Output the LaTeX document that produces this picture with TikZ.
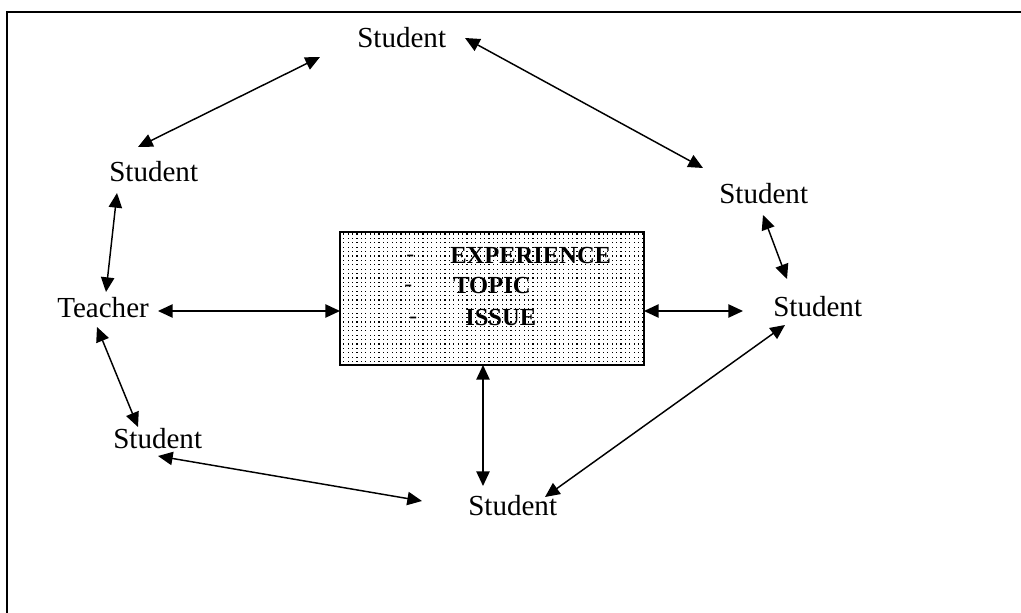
\documentclass[tikz,border=0pt]{standalone}
\usepackage{fontspec}
\setmainfont{Liberation Serif}
\usetikzlibrary{arrows.meta,patterns}
\pgfdeclarepatternformonly{bigdots}{\pgfqpoint{-1pt}{-1pt}}{\pgfqpoint{2.3pt}{2.3pt}}{\pgfqpoint{3.3pt}{3.3pt}}{%
  \pgfpathrectangle{\pgfqpoint{0pt}{0pt}}{\pgfqpoint{0.9pt}{0.9pt}}%
  \pgfusepath{fill}}
\begin{document}
\begin{tikzpicture}[x=0.75pt,y=-0.75pt,
  lbl/.style={anchor=base west,inner sep=0pt,font=\fontsize{21.8}{26}\selectfont},
  itm/.style={anchor=base west,inner sep=0pt,font=\fontsize{18.4}{22}\selectfont\bfseries},
  dashmark/.style={anchor=base west,inner sep=0pt,font=\fontsize{17.5}{21}\selectfont},
  link/.style={line width=1.1pt,{Triangle[length=11pt,width=10pt]}-{Triangle[length=11pt,width=10pt]}},
  topicbox/.style={draw,line width=1.5pt,pattern=bigdots,inner sep=0pt,minimum width=228pt,minimum height=99.75pt}]
\useasboundingbox (0,0) rectangle (1021,613);
% frame
\draw[line width=1.8pt] (7,613) -- (7,12) -- (1021,12);
% central box
\node[topicbox] (box) at (492,298.5) {};
\node[dashmark] (d1) at (406,261) {-};
\node[itm] (t1) at (450,263) {EXPERIENCE};
\node[dashmark] (d2) at (404,291) {-};
\node[itm] (t2) at (453,293) {TOPIC};
\node[dashmark] (d3) at (409,323) {-};
\node[itm] (t3) at (465,325) {ISSUE};
% people
\node[lbl] (ts) at (357,48) {Student};
\node[lbl] (lu) at (109,182) {Student};
\node[lbl] (ru) at (719,204) {Student};
\node[lbl] (te) at (57,317) {Teacher};
\node[lbl] (rs) at (773,316) {Student};
\node[lbl] (ll) at (113,448) {Student};
\node[lbl] (bs) at (468,515) {Student};
% arrow end points
\coordinate (a1s) at (320,57);  \coordinate (a1e) at (138,147);
\coordinate (a2s) at (465,38);  \coordinate (a2e) at (703,168);
\coordinate (a3s) at (117,193); \coordinate (a3e) at (106,292);
\coordinate (a4s) at (763,215); \coordinate (a4e) at (787,279);
\coordinate (a5s) at (158,311); \coordinate (a5e) at (340,311);
\coordinate (a6s) at (644,311); \coordinate (a6e) at (743,311);
\coordinate (a7s) at (97,327);  \coordinate (a7e) at (138,427);
\coordinate (a8s) at (158,456); \coordinate (a8e) at (422,501);
\coordinate (a9s) at (483,365); \coordinate (a9e) at (483,486);
\coordinate (a10s) at (785,325); \coordinate (a10e) at (545,497);
\draw[link] (a1s) -- (a1e);
\draw[link] (a2s) -- (a2e);
\draw[link] (a3s) -- (a3e);
\draw[link] (a4s) -- (a4e);
\draw[link] (a5s) -- (a5e);
\draw[link] (a6s) -- (a6e);
\draw[link] (a7s) -- (a7e);
\draw[link] (a8s) -- (a8e);
\draw[link] (a9s) -- (a9e);
\draw[link] (a10s) -- (a10e);
\end{tikzpicture}
\end{document}
